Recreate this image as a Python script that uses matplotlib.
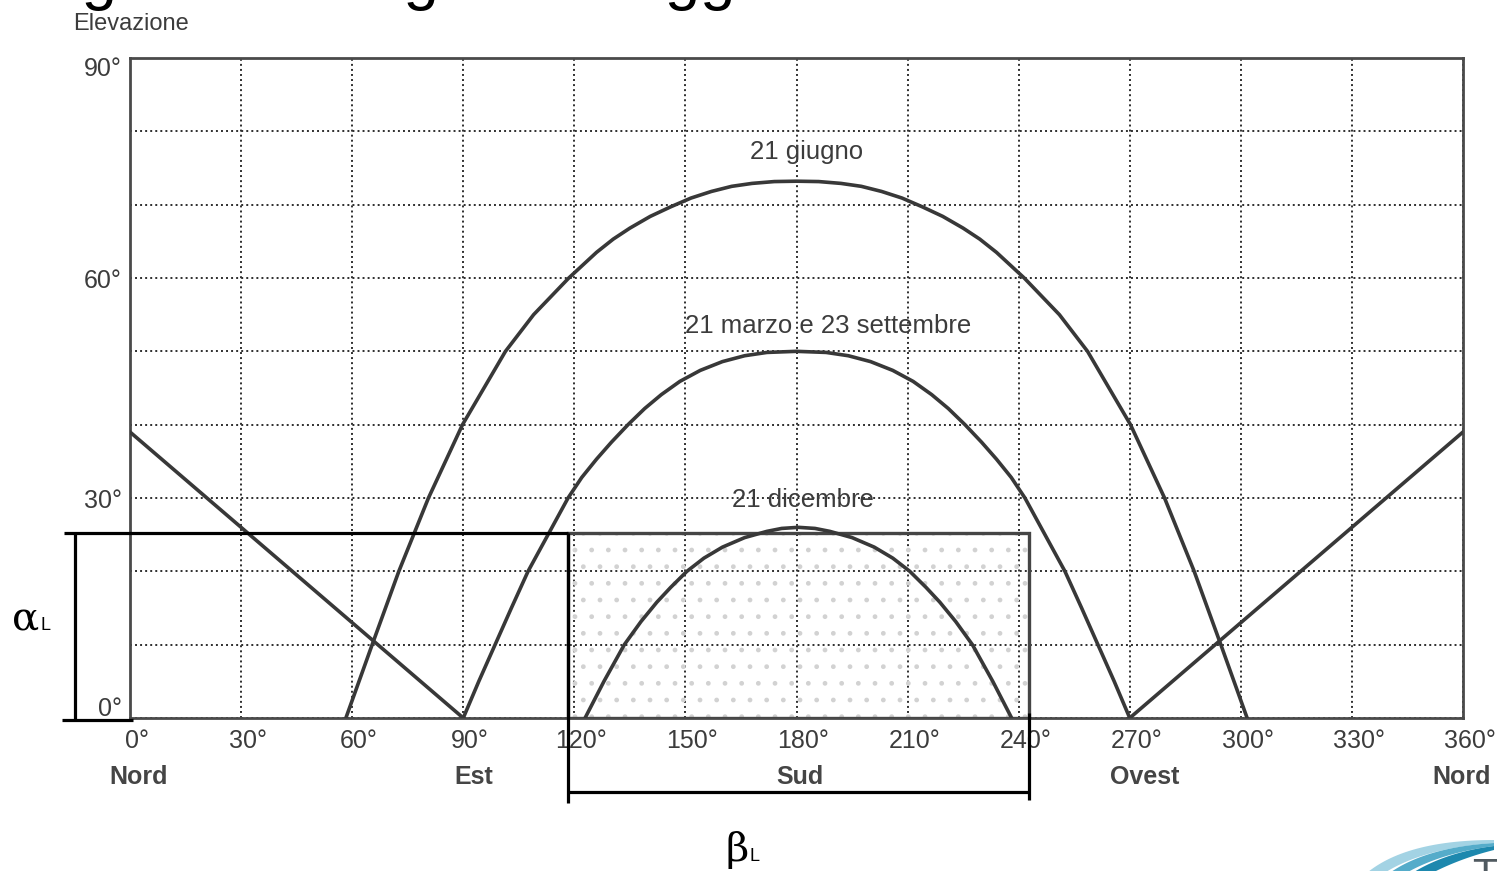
import numpy as np
import matplotlib
matplotlib.use('Agg')
import matplotlib.pyplot as plt
import matplotlib.transforms as mtransforms
from matplotlib.patches import Rectangle, Polygon

plt.rcParams['font.family'] = ['Liberation Sans', 'DejaVu Sans']

#Sun paths: azimuth (deg) and elevation (deg)
june_az = [58.3, 65.4, 72.6, 80.6, 89.8, 101.4, 109, 118.5, 126, 130.5, 135, 140.5, 146, 151.5, 157,
           162.5, 168, 174, 180, 186, 192, 197.5, 203, 208.5, 214, 219.5, 225, 229.5, 234,
           241.5, 251, 258.6, 270.2, 279.4, 287.4, 294.6, 301.7]
june_el = [0, 10, 20, 30, 40, 50, 55, 60, 63.5, 65.3, 66.8, 68.4, 69.7, 70.9, 71.8,
           72.5, 72.9, 73.15, 73.2, 73.15, 72.9, 72.5, 71.8, 70.9, 69.7, 68.4, 66.8, 65.3, 63.5,
           60, 55, 50, 40, 30, 20, 10, 0]

equinox_az = [90, 94.2, 98.6, 103, 107.5, 112.9, 118.3, 122, 126, 130, 134.5, 139, 143.5, 148.5,
              154, 160, 166, 172, 180, 188, 194, 200, 206, 211.5, 216.5, 221, 225.5, 230, 234, 238,
              241.7, 247.1, 252.5, 257, 261.4, 265.8, 270]
equinox_el = [0, 5, 10, 15, 20, 25, 30, 32.8, 35.3, 37.6, 40, 42.2, 44.1, 45.9,
              47.4, 48.6, 49.4, 49.85, 50, 49.85, 49.4, 48.6, 47.4, 45.9, 44.1, 42.2, 40, 37.6, 35.3, 32.8,
              30, 25, 20, 15, 10, 5, 0]

dec_az = [122.9, 128, 133.5, 138, 142.3, 146, 150.4, 155, 160, 166, 172, 176, 180.5,
          185, 189, 195, 201, 206, 210.6, 215, 218.7, 223, 227.5, 233, 238.1]
dec_el = [0, 5, 10, 13.15, 15.8, 17.8, 20, 21.8, 23.3, 24.6, 25.45, 25.85, 26,
          25.85, 25.45, 24.6, 23.3, 21.8, 20, 17.8, 15.8, 13.15, 10, 5, 0]

#Obstruction profile
obst_left_az = [0, 90]
obst_left_el = [39, 0]
obst_right_az = [270, 360]
obst_right_el = [0, 39]

#Limit window (beta_L x alpha_L)
beta_min, beta_max = 118.4, 242.7
alpha_l = 25.2

x_ticks = [0, 30, 60, 90, 120, 150, 180, 210, 240, 270, 300, 330, 360]
y_ticks = [0, 30, 60, 90]
dir_az = [0, 90, 180, 270, 360]
dir_names = ['Nord', 'Est', 'Sud', 'Ovest', 'Nord']

W, H = 1497, 871
fig = plt.figure(figsize=(W / 100, H / 100), dpi=100)
ax = fig.add_axes([130 / W, 1 - 718 / H, (1463 - 130) / W, (718 - 58) / H])

line_c = '#383838'
text_c = '#3c3c3c'

def px(dx, dy=0):
    return mtransforms.ScaledTranslation(dx / 100, dy / 100, fig.dpi_scale_trans)

#Shaded window
ax.add_patch(Rectangle((beta_min, 0), beta_max - beta_min, alpha_l, facecolor='none',
                       edgecolor='#d2d2d2', hatch='.', linewidth=0, zorder=1))
ax.add_patch(Rectangle((beta_min, 0), beta_max - beta_min, alpha_l, facecolor='none',
                       edgecolor='#454545', linewidth=2.4, zorder=3))

for az, el in [(june_az, june_el), (equinox_az, equinox_el), (dec_az, dec_el),
               (obst_left_az, obst_left_el), (obst_right_az, obst_right_el)]:
    ax.plot(az, el, color=line_c, lw=2.6, zorder=4, solid_joinstyle='round')

ax.text(182.6, 77.2, '21 giugno', ha='center', va='center', fontsize=18.5, color=text_c)
ax.text(188.5, 53.5, '21 marzo e 23 settembre', ha='center', va='center', fontsize=18.5, color=text_c)
ax.text(181.7, 29.7, '21 dicembre', ha='center', va='center', fontsize=18.5, color=text_c)

ax.set_xlim(0, 360)
ax.set_ylim(0, 90)
ax.set_xticks(x_ticks)
ax.set_xticklabels([f'{v}°' for v in x_ticks])
ax.set_yticks(y_ticks)
ax.set_yticks(range(0, 91, 10), minor=True)
ax.set_yticklabels([f'{v}°' for v in y_ticks])
ax.tick_params(which='both', length=0, labelsize=18, labelcolor=text_c)
ax.tick_params(axis='x', pad=8)
ax.tick_params(axis='y', pad=6)
ax.grid(which='both', color='#2e2e2e', linestyle=(0, (1, 1.6)), linewidth=1.4)
ax.set_axisbelow(True)
for s in ax.spines.values():
    s.set_color('#4a4a4a')
    s.set_linewidth(2)

for lab in ax.get_xticklabels():
    lab.set_transform(lab.get_transform() + px(7))
ylabs = ax.get_yticklabels()
ylabs[0].set_transform(ylabs[0].get_transform() + px(0, 11))
ylabs[-1].set_transform(ylabs[-1].get_transform() + px(0, -8))

dir_shift = [9, 10, 3, 15, -1]
blend = mtransforms.blended_transform_factory(ax.transData, ax.transAxes)
for x, name, dx in zip(dir_az, dir_names, dir_shift):
    ax.text(x, -0.0894, name, transform=blend + px(dx), ha='center', va='center',
            fontsize=18, fontweight='bold', color='#454545')

#alpha_L and beta_L brackets
k = dict(color='black', lw=2.3, clip_on=False, zorder=5, solid_capstyle='butt')
ax.plot([-17.8, beta_min], [alpha_l, alpha_l], **k)
ax.plot([-14.9, -14.9], [alpha_l, -0.3], **k)
ax.plot([-18.4, 0.8], [-0.3, -0.3], **k)
ax.plot([beta_min, beta_min], [alpha_l, -11.6], **k)
ax.plot([beta_max, beta_max], [0.7, -11.2], **k)
ax.plot([beta_min, beta_max], [-10.1, -10.1], **k)

fig.text(12 / W, 1 - 630 / H, 'α', fontsize=29, family='DejaVu Serif', va='baseline', color='black')
fig.text(40 / W, 1 - 630 / H, 'L', fontsize=13, va='baseline', color='black')
fig.text(726 / W, 1 - 861 / H, 'β', fontsize=29, family='DejaVu Serif', va='baseline', color='black')
fig.text(750 / W, 1 - 861 / H, 'L', fontsize=13, va='baseline', color='black')

fig.text(73 / W, 1 - 24 / H, 'Elevazione', fontsize=17, va='center', color=text_c)
fig.text(-14 / W, 1 + 2 / H, 'Diagramma degli ombreggiamenti', fontsize=45.8,
         va='baseline', ha='left', color='black')

#Logo corner
def bez(p0, p1, p2, n=30):
    t = np.linspace(0, 1, n)[:, None]
    return (1 - t) ** 2 * np.array(p0) + 2 * (1 - t) * t * np.array(p1) + t ** 2 * np.array(p2)

bands = [
    ('#a3d3e4', (1368, 872), (1408, 840), (1494, 840), (1494, 843), (1425, 848), (1386, 872)),
    ('#55acca', (1391, 872), (1428, 847), (1494, 843), (1494, 846), (1442, 853), (1408, 872)),
    ('#1d88ae', (1414, 872), (1447, 852), (1494, 846), (1494, 850), (1462, 858), (1434, 872)),
]
for c, a0, a1, a2, b0, b1, b2 in bands:
    pts = np.vstack([bez(a0, a1, a2), bez(b0, b1, b2)])
    pts = np.column_stack([pts[:, 0] / W, 1 - pts[:, 1] / H])
    fig.add_artist(Polygon(pts, closed=True, facecolor=c, edgecolor='none', transform=fig.transFigure))
fig.text(1472 / W, 1 - 888 / H, 'T', fontsize=30, color='#505a60', va='baseline')

fig.savefig('out.png', dpi=100)
